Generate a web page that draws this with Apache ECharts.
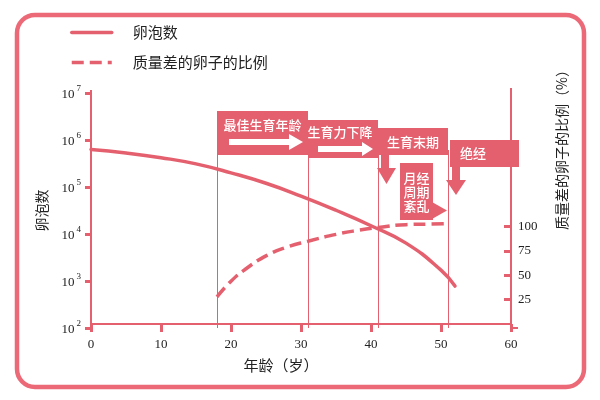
<!DOCTYPE html>
<html>
<head>
<meta charset="utf-8">
<script src="https://cdn.jsdelivr.net/npm/echarts@6.0.0/dist/echarts.min.js"></script>
<style>html,body{margin:0;padding:0;background:#fff}#c{width:600px;height:400px}</style>
</head>
<body>
<div id="c"></div>
<script>
// ---- data ----
const follicleYears = [0, 5, 10, 15, 20, 25, 30, 35, 40, 45, 50, 52];
const follicleCounts = [630000, 530000, 420000, 310000, 200000, 120000, 64000, 32000, 15000, 6400, 1700, 780];
const poorYears = [18, 20, 22, 25, 28, 31, 35, 38, 41, 45, 48, 51];
const poorPercent = [28, 44, 56, 70, 79, 85, 92, 96, 99, 102, 102.5, 103];
const xTickValues = [0, 10, 20, 30, 40, 50, 60];
const rightTickValues = [25, 50, 75, 100];
const stageYears = [18, 31, 41, 51];
const seriesNames = ['卵泡数', '质量差的卵子的比例'];
const xName = '年龄（岁）';
const leftName = '卵泡数';
const rightName = '质量差的卵子的比例（%）';
const stageLabels = ['最佳生育年龄', '生育力下降', '生育末期', '月经\n周期\n紊乱', '绝经'];

const PINK = '#e4606e';
const TXT = '#222';
const CJK = '"Noto Sans CJK SC", "Noto Sans", sans-serif';
const SERIF = '"Liberation Serif", "DejaVu Serif", serif';

const chart = echarts.init(document.getElementById('c'), null, {renderer: 'canvas'});

const option = {
  animation: false,
  backgroundColor: '#fff',
  textStyle: {fontFamily: CJK},
  grid: {left: 91, right: 89, top: 93, bottom: 72, containLabel: false},
  legend: {
    orient: 'vertical', left: 70, top: 25, padding: 0,
    itemWidth: 40, itemHeight: 14, itemGap: 15,
    itemStyle: {color: 'rgba(0,0,0,0)', borderColor: 'rgba(0,0,0,0)', borderWidth: 0, opacity: 0},
    lineStyle: {width: 3.5},
    textStyle: {fontSize: 15, color: TXT, fontFamily: CJK, padding: [0, 0, 0, 16], lineHeight: 14},
    data: seriesNames
  },
  xAxis: {
    type: 'value', min: 0, max: 60, interval: 10,
    name: xName, nameLocation: 'middle', nameGap: 30,
    nameTextStyle: {fontSize: 15, color: TXT, fontFamily: CJK, padding: [0, 40, 0, 0]},
    axisLine: {lineStyle: {color: PINK, width: 2}},
    axisTick: {show: true, inside: false, length: 8, lineStyle: {color: PINK, width: 3}},
    axisLabel: {color: TXT, fontSize: 13, fontFamily: SERIF, margin: 10},
    splitLine: {show: false}
  },
  yAxis: [{
    type: 'log', logBase: 10, min: 100, max: 10000000,
    position: 'left',
    name: leftName, nameLocation: 'middle', nameGap: 42,
    nameTextStyle: {fontSize: 14, color: TXT, fontFamily: CJK},
    axisLine: {show: true, lineStyle: {color: PINK, width: 2}},
    axisTick: {show: true, inside: false, length: 6, lineStyle: {color: PINK, width: 3}},
    axisLabel: {
      margin: 10,
      formatter: function (v) {
        const e = Math.round(Math.log10(v));
        return '{b|10}{s|' + e + '}';
      },
      rich: {
        b: {fontSize: 13, fontFamily: SERIF, color: TXT, lineHeight: 17, verticalAlign: 'bottom'},
        s: {fontSize: 9, fontFamily: SERIF, color: TXT, lineHeight: 10, verticalAlign: 'top', padding: [0, 0, 0, 2]}
      }
    },
    splitLine: {show: false},
    minorTick: {show: false}
  }, {
    type: 'value', min: -4, max: 237,
    position: 'right',
    name: rightName, nameLocation: 'middle', nameGap: 44,
    nameTextStyle: {fontSize: 14, color: TXT, fontFamily: CJK, padding: [0, 0, 0, 128]},
    axisLine: {show: true, lineStyle: {color: PINK, width: 2}},
    axisTick: {show: true, inside: true, length: 7, lineStyle: {color: PINK, width: 3}, customValues: rightTickValues},
    axisLabel: {color: TXT, fontSize: 13, fontFamily: SERIF, margin: 7, customValues: rightTickValues},
    splitLine: {show: false}
  }],
  series: [{
    name: seriesNames[0], type: 'line', yAxisIndex: 0, smooth: true,
    symbol: 'none', showSymbol: false,
    lineStyle: {color: PINK, width: 3.5, cap: 'round'},
    itemStyle: {color: PINK},
    data: follicleYears.map((y, i) => [y, follicleCounts[i]]),
    z: 3
  }, {
    name: seriesNames[1], type: 'line', yAxisIndex: 1, smooth: true,
    symbol: 'none', showSymbol: false,
    lineStyle: {color: PINK, width: 3.5, type: [12, 6]},
    itemStyle: {color: PINK},
    data: poorYears.map((y, i) => [y, poorPercent[i]]),
    z: 3
  }]
};
chart.setOption(option);

// ---- annotations ----
const px = y => chart.convertToPixel({xAxisIndex: 0}, y);
const yBottom = chart.convertToPixel({yAxisIndex: 0}, 100);
const yTop = chart.convertToPixel({yAxisIndex: 0}, 10000000);
const xLeft = px(0), xRight = px(60);
const g = [];
// frame
g.push({type: 'rect', shape: {x: 17, y: 15, width: 567, height: 372, r: 18},
  style: {fill: 'none', stroke: '#ec6a78', lineWidth: 4.5}, z: 100, silent: true});
// small axis-line extensions
g.push({type: 'line', shape: {x1: xRight, y1: yBottom, x2: xRight + 7, y2: yBottom}, style: {stroke: PINK, lineWidth: 2}, z: 5});
g.push({type: 'line', shape: {x1: xLeft - 3, y1: yBottom, x2: xLeft, y2: yBottom}, style: {stroke: PINK, lineWidth: 2}, z: 5});
g.push({type: 'line', shape: {x1: xRight, y1: yTop - 5, x2: xRight, y2: yTop}, style: {stroke: PINK, lineWidth: 2}, z: 5});
g.push({type: 'line', shape: {x1: xLeft, y1: yTop - 3, x2: xLeft, y2: yTop}, style: {stroke: PINK, lineWidth: 2}, z: 5});
// vertical stage lines
stageYears.forEach(y => {
  const x = Math.round(px(y)) + 0.5;
  g.push({type: 'line', shape: {x1: x, y1: 150, x2: x, y2: yBottom}, style: {stroke: PINK, lineWidth: 1}, z: 5});
});
const x18 = px(stageYears[0]), x31 = px(stageYears[1]), x41 = px(stageYears[2]), x51 = px(stageYears[3]);
function box(x1, y1, x2, y2) {
  g.push({type: 'rect', shape: {x: x1, y: y1, width: x2 - x1, height: y2 - y1}, style: {fill: PINK}, z: 10});
}
function txt(x, y, s, lh) {
  g.push({type: 'text', x: x, y: y, style: {text: s, fill: '#fff', font: '500 13px ' + CJK, align: 'center', verticalAlign: 'middle', lineHeight: lh || 14}, z: 12});
}
function poly(pts, fill) {
  g.push({type: 'polygon', shape: {points: pts}, style: {fill: fill}, z: 12});
}
// box 1
box(x18, 111, x31, 155);
txt((x18 + x31) / 2, 125, stageLabels[0]);
poly([[229, 139], [289, 139], [289, 134], [303, 142], [289, 150], [289, 145], [229, 145]], '#fff');
// box 2
box(x31, 120, x41, 158);
txt((x31 + x41) / 2 - 3, 132, stageLabels[1]);
poly([[318, 146], [362, 146], [362, 142], [373, 149], [362, 156], [362, 152], [318, 152]], '#fff');
// box 3
box(x41, 128, x51, 155);
txt((x41 + x51) / 2, 142, stageLabels[2]);
poly([[381, 155], [389, 155], [389, 168], [396, 168], [386.5, 184], [377, 168], [381, 168]], PINK);
// box 4
box(400, 163, 433, 220);
txt(416.5, 192, stageLabels[3], 14);
poly([[432, 202], [447, 210.5], [432, 219]], PINK);
// box 5
box(450, 140, 519, 167);
txt(473, 153, stageLabels[4]);
poly([[452, 166], [460, 166], [460, 180], [466, 180], [456, 195], [446, 180], [452, 180]], PINK);

chart.setOption({graphic: g});
</script>
</body>
</html>
